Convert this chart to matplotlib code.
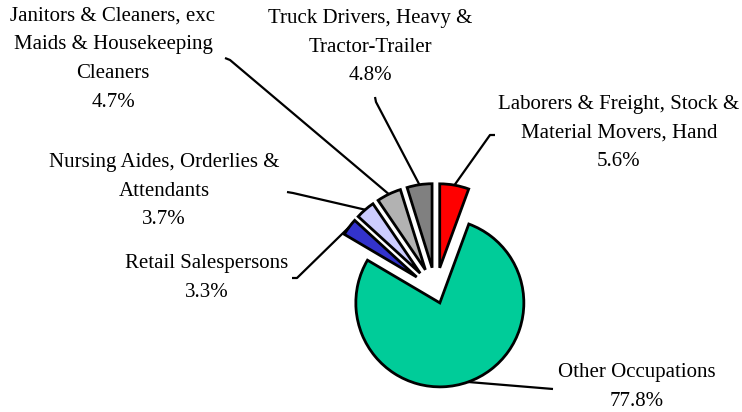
import numpy as np
import matplotlib.pyplot as plt

labels = ["Laborers & Freight, Stock &\nMaterial Movers, Hand",
          "Other Occupations",
          "Retail Salespersons",
          "Nursing Aides, Orderlies &\nAttendants",
          "Janitors & Cleaners, exc\nMaids & Housekeeping\nCleaners",
          "Truck Drivers, Heavy &\nTractor-Trailer"]
shares = [5.6, 77.8, 3.3, 3.7, 4.7, 4.8]
colors = ["#FF0000", "#00CC99", "#3333CC", "#CCCCFF", "#B2B2B2", "#808080"]
explode = [0.28, 0.15, 0.28, 0.28, 0.28, 0.28]

# label centre and leader-line start (pixel coords, y down)
label_pos = [(619, 133), (637, 387), (207, 278), (164, 191), (113, 59), (370, 47)]
leader_start = [[(495, 135), (490, 135)],
                [(553, 389), (553, 389)],
                [(292, 278), (297, 278)],
                [(287, 192), (293, 193)],
                [(225, 58), (230, 60)],
                [(375, 97), (376, 102)]]

W, H = 742, 412
fig = plt.figure(figsize=(W / 100, H / 100), dpi=100)
ax = fig.add_axes([0, 0, 1, 1])

R = 84
C = (435.6, H - 291)
wedges, _ = ax.pie(shares, colors=colors, explode=[e * R for e in explode],
                   startangle=90, counterclock=False, radius=R, center=C,
                   frame=True, wedgeprops=dict(edgecolor="black", linewidth=2))
ax.set_xlim(0, W)
ax.set_ylim(0, H)
ax.axis("off")

font = dict(family="Liberation Serif", size=15)
for w, lab, v, (lx, ly), pts in zip(wedges, labels, shares, label_pos, leader_start):
    ax.text(lx, H - ly, f"{lab}\n{v:.1f}%", ha="center", va="center",
            linespacing=1.7, **font)
    mid = np.deg2rad((w.theta1 + w.theta2) / 2)
    cx, cy = w.center
    ex, ey = cx + w.r * np.cos(mid), cy + w.r * np.sin(mid)
    xs = [p[0] for p in pts] + [ex]
    ys = [H - p[1] for p in pts] + [ey]
    ax.plot(xs, ys, color="black", lw=1.6, solid_capstyle="butt")

fig.savefig("out.png", dpi=100)
